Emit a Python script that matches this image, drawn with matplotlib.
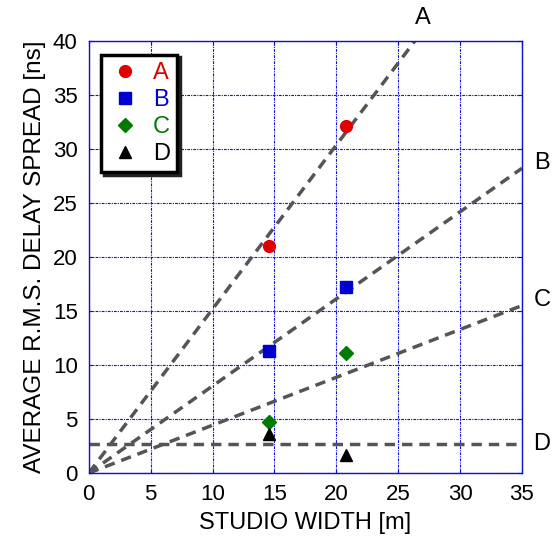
import matplotlib
matplotlib.use("Agg")
import matplotlib.pyplot as plt
import numpy as np

plt.rcParams['font.family'] = ['Liberation Sans', 'DejaVu Sans']

# Data
widths = [14.6, 20.8]
series_names = ['A', 'B', 'C', 'D']
A_vals = [21.0, 32.1]
B_vals = [11.3, 17.2]
C_vals = [4.7, 11.1]
D_vals = [3.6, 1.7]
line_slopes = {'A': 1.518, 'B': 0.806, 'C': 0.443}
D_level = 2.7
x_ticks = [0, 5, 10, 15, 20, 25, 30, 35]
y_ticks = [0, 5, 10, 15, 20, 25, 30, 35, 40]

colors = {'A': '#e00000', 'B': '#0000d0', 'C': '#007a00', 'D': '#000000'}
markers = {'A': 'o', 'B': 's', 'C': 'D', 'D': '^'}
msizes = {'A': 8.5, 'B': 9, 'C': 7.5, 'D': 9}
vals = {'A': A_vals, 'B': B_vals, 'C': C_vals, 'D': D_vals}

fig = plt.figure(figsize=(5.55, 5.45), dpi=100)
ax = fig.add_axes([0.160, 0.132, 0.7805, 0.793])
ax.set_xlim(0, 35)
ax.set_ylim(0, 40)

gridblue = '#1010d0'
ax.grid(True, color=gridblue, linestyle=(0, (2.5, 1, 1, 1)), linewidth=0.8)
ax.set_axisbelow(True)
for s in ax.spines.values():
    s.set_color(gridblue)
    s.set_linewidth(1.0)

xs = np.array([0, 35])
linecol = '#555555'
for name, k in line_slopes.items():
    ax.plot(xs, k * xs, color=linecol, linestyle=(0, (3, 2)), linewidth=2.5, zorder=2)
ax.plot(xs, [D_level, D_level], color=linecol, linestyle=(0, (3, 2)), linewidth=2.5, zorder=2)

handles = []
for name in series_names:
    h, = ax.plot(widths, vals[name], linestyle='none', marker=markers[name],
                 color=colors[name], markersize=msizes[name], label=name, zorder=3)
    handles.append(h)

# Line labels
lfs = 17
ax.text(40 / line_slopes['A'] + 0.6, 42.1, 'A', fontsize=lfs, ha='center', va='center', clip_on=False)
ax.text(36.6, line_slopes['B'] * 35 + 0.5, 'B', fontsize=lfs, ha='center', va='center', clip_on=False)
ax.text(36.6, line_slopes['C'] * 35 + 0.5, 'C', fontsize=lfs, ha='center', va='center', clip_on=False)
ax.text(36.6, D_level, 'D', fontsize=lfs, ha='center', va='center', clip_on=False)

ax.set_xticks(x_ticks)
ax.set_yticks(y_ticks)
ax.tick_params(direction='in', length=3, color=gridblue, labelsize=16,
               top=True, right=True, pad=8)
ax.set_xlabel('STUDIO WIDTH [m]', fontsize=17, labelpad=5)
ax.set_ylabel('AVERAGE R.M.S. DELAY SPREAD [ns]', fontsize=17.5, labelpad=5)

leg = ax.legend(handles=handles, loc='upper left', bbox_to_anchor=(0.028, 0.968),
                borderaxespad=0,
                fontsize=17, frameon=True, fancybox=False, shadow={'color': '#222222', 'alpha': 1},
                edgecolor='black', handletextpad=0.5, borderpad=0.3, labelspacing=0.22,
                handlelength=1.4)
leg.get_frame().set_linewidth(2.5)
for t, name in zip(leg.get_texts(), series_names):
    t.set_color(colors[name])

fig.savefig('out.png', dpi=100)
